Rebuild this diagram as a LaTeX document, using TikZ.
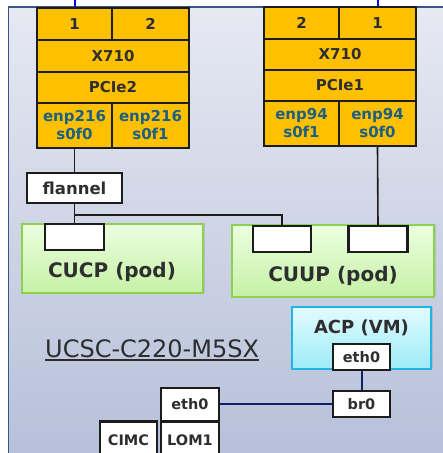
\documentclass[tikz,border=0pt]{standalone}
\usepackage{fontspec}
\setmainfont{DejaVu Sans}
\usetikzlibrary{shadows}
\definecolor{gold}{HTML}{FFC000}
\definecolor{cardline}{HTML}{1C1C1C}
\definecolor{txt}{HTML}{2E2E2E}
\definecolor{enptxt}{HTML}{1D5F80}
\definecolor{bgtop}{HTML}{E6E9F2}
\definecolor{bgbot}{HTML}{B4BED8}
\definecolor{frame}{HTML}{3A5580}
\definecolor{podtop}{HTML}{EBFFE0}
\definecolor{podbot}{HTML}{C6F1A6}
\definecolor{podline}{HTML}{8FD14F}
\definecolor{vmtop}{HTML}{E2FCFF}
\definecolor{vmbot}{HTML}{9DEBF8}
\definecolor{vmline}{HTML}{1FB6E6}
\definecolor{navy}{HTML}{0C2466}
\tikzset{
  cell/.style={draw=cardline, line width=2.2pt, fill=gold, inner sep=0pt,
    text=txt, font=\fontsize{15}{18}\selectfont\bfseries, align=center},
  enpcell/.style={cell, text=enptxt},
  port/.style={draw=cardline, line width=2.2pt, fill=white, inner sep=0pt,
    text=txt, font=\fontsize{14.5}{17}\selectfont\bfseries},
  pod/.style={draw=podline, line width=2pt, top color=podtop, bottom color=podbot,
    inner sep=0pt, drop shadow={opacity=0.25, shadow xshift=1.5pt, shadow yshift=1.5pt}},
  vm/.style={draw=vmline, line width=2pt, top color=vmtop, bottom color=vmbot,
    inner sep=0pt, drop shadow={opacity=0.25, shadow xshift=1.5pt, shadow yshift=1.5pt}},
  lbl/.style={text=txt, font=\fontsize{20}{24}\selectfont\bfseries, inner sep=0pt},
  wire/.style={draw=cardline, line width=1.6pt},
  navywire/.style={draw=navy, line width=2pt},
  bluewire/.style={draw=blue, line width=2pt},
}
\begin{document}
\begin{tikzpicture}[x=1pt,y=-1pt]
\useasboundingbox (0,0) rectangle (443,453);
% background
\fill[black, opacity=0.25] (10.5,9.5) rectangle (470,480);
\shade[top color=bgtop, bottom color=bgbot, draw=frame, line width=1.6pt] (8.5,7) rectangle (470,480);
% top wires
\coordinate (topL) at (74.5,0);
\coordinate (topR) at (377.5,0);
% left card
\node[cell, minimum width=75pt, minimum height=32pt] (l1) at (74.5,24) {1};
\node[cell, minimum width=77pt, minimum height=32pt] (l2) at (150.5,24) {2};
\node[cell, minimum width=152pt, minimum height=32pt] (lx) at (113,56) {X710};
\node[cell, minimum width=152pt, minimum height=31pt] (lp) at (113,87.5) {PCIe2};
\node[enpcell, minimum width=75pt, minimum height=45pt] (lf0) at (74.5,125.5) {enp216\\s0f0};
\node[enpcell, minimum width=77pt, minimum height=45pt] (lf1) at (150.5,125.5) {enp216\\s0f1};
% right card
\node[cell, minimum width=75pt, minimum height=32pt] (r2) at (301.5,23) {2};
\node[cell, minimum width=77pt, minimum height=32pt] (r1) at (377.5,23) {1};
\node[cell, minimum width=152pt, minimum height=31pt] (rx) at (340,54.5) {X710};
\node[cell, minimum width=152pt, minimum height=31pt] (rp) at (340,85.5) {PCIe1};
\node[enpcell, minimum width=75pt, minimum height=45pt] (rf1) at (301.5,123.5) {enp94\\s0f1};
\node[enpcell, minimum width=77pt, minimum height=45pt] (rf0) at (377.5,123.5) {enp94\\s0f0};
\draw[bluewire] (topL) -- (l1.north);
\draw[bluewire] (topR) -- (r1.north);
% flannel
\node[port, font=\fontsize{16.5}{19}\selectfont\bfseries, minimum width=95pt, minimum height=30pt] (fl) at (74.5,188) {flannel};
% pods
\node[pod, minimum width=181pt, minimum height=69pt] (cucp) at (112.5,258.5) {};
\node[lbl] at (112,272) {CUCP (pod)};
\node[port, minimum width=59pt, minimum height=26pt] (cucpp) at (74.5,237) {};
\node[pod, minimum width=202pt, minimum height=72pt] (cuup) at (333,261) {};
\node[lbl] at (333,276) {CUUP (pod)};
\node[port, minimum width=58pt, minimum height=26pt] (cuupl) at (282,239) {};
\node[port, minimum width=59pt, minimum height=26pt] (cuupr) at (378,239) {};
% connectors
\draw[wire] (lf0.south) -- (fl.north);
\draw[wire] (fl.south) -- (cucpp.north);
\coordinate (jn) at (74.5,215);
\draw[wire] (jn) -| (cuupl.north);
\draw[wire] (rf0.south) -- (cuupr.north);
% ACP VM
\node[vm, minimum width=139pt, minimum height=62pt] (acp) at (361.5,338) {};
\node[lbl, font=\fontsize{18}{22}\selectfont\bfseries] at (361.5,328) {ACP (VM)};
\node[port, minimum width=57pt, minimum height=26pt] (veth) at (361.5,357) {eth0};
\node[port, minimum width=57pt, minimum height=26pt] (br) at (361.5,404) {br0};
\node[port, minimum width=58pt, minimum height=33pt] (seth) at (190,404.5) {eth0};
\node[port, minimum width=58pt, minimum height=38pt] (lom) at (190,440.5) {LOM1};
\node[port, minimum width=57pt, minimum height=38pt] (cimc) at (128.5,440.5) {CIMC};
\draw[navywire] (veth.south) -- (br.north);
\draw[navywire] (seth.east |- br.west) -- (br.west);
% server label
\node[anchor=base west, inner sep=0pt, text=txt, font=\fontsize{24}{28}\selectfont] (srv) at (45,357) {UCSC-C220-M5SX};
\draw[txt, line width=1.3pt] ([yshift=-3pt]srv.base west) -- ([yshift=-3pt]srv.base east);
\end{tikzpicture}
\end{document}
